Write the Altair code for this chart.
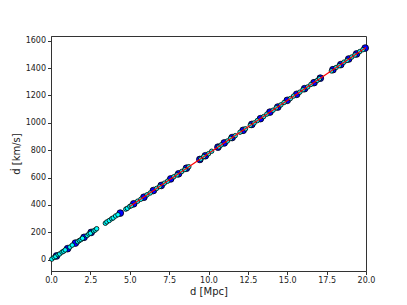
import altair as alt
import pandas as pd

# blue (large) points
blue_d = [0.35, 1.05, 1.55, 2.1, 2.55, 4.4, 5.25, 5.9, 6.5, 7.0, 7.6, 8.1, 8.6,
          9.45, 9.8, 10.6, 11.0, 11.5, 12.2, 12.75, 13.3, 13.9, 14.4, 15.0, 15.6,
          16.1, 16.7, 17.1, 17.9, 18.4, 18.9, 19.4, 19.95]
blue_v = [27, 80, 121, 163, 199, 340, 408, 456, 505, 542, 590, 627, 668,
          732, 759, 822, 853, 892, 945, 988, 1030, 1078, 1115, 1164, 1208,
          1249, 1293, 1326, 1388, 1425, 1466, 1503, 1546]

# cyan (small) points
cyan_d = [0.05, 0.2, 0.3, 0.45, 0.55, 0.7, 0.8, 0.9, 1.2, 1.35, 1.7, 1.8, 1.9, 2.0,
          2.3, 2.4, 2.5, 2.7, 2.8, 2.9, 3.45, 3.55, 3.7, 3.85, 3.95, 4.1, 4.25,
          4.75, 4.85, 5.0, 5.1, 5.5, 5.7, 6.1, 6.3, 6.7, 6.9, 7.2, 7.4, 7.8, 8.0,
          8.3, 8.5, 8.75, 9.5, 9.7, 10.0, 10.2, 10.65, 10.8, 11.2, 11.4, 11.7,
          12.0, 12.35, 12.65, 12.9, 13.1, 13.5, 13.7, 14.1, 14.3, 14.6, 14.8,
          15.2, 15.4, 15.8, 16.0, 16.3, 16.5, 16.9, 17.05, 17.8, 18.1, 18.3,
          18.6, 18.8, 19.1, 19.3, 19.6, 19.8]
cyan_v = [4, 16, 23, 36, 42, 55, 61, 71, 92, 106, 131, 140, 146, 156,
          177, 187, 193, 210, 216, 226, 266, 276, 286, 299, 305, 319, 328,
          369, 375, 389, 394, 427, 441, 474, 487, 520, 534, 559, 573, 606, 619,
          644, 658, 679, 735, 753, 774, 792, 824, 838, 867, 885, 906,
          931, 956, 981, 999, 1016, 1045, 1063, 1092, 1109, 1131, 1148,
          1177, 1195, 1224, 1241, 1262, 1280, 1309, 1322, 1379, 1404, 1417,
          1443, 1456, 1481, 1495, 1520, 1534]

# fitted line
line_d = [5.0, 20.0]
line_v = [387.5, 1550.0]

x_ticks = [0, 2.5, 5, 7.5, 10, 12.5, 15, 17.5, 20]
y_ticks = [0, 200, 400, 600, 800, 1000, 1200, 1400, 1600]

blue_df = pd.DataFrame({"d": blue_d, "v": blue_v})
cyan_df = pd.DataFrame({"d": cyan_d, "v": cyan_v})
line_df = pd.DataFrame({"d": line_d, "v": line_v})

xscale = alt.Scale(domain=[0, 20], nice=False, zero=False)
yscale = alt.Scale(domain=[-83, 1634], nice=False, zero=False)

xaxis = alt.Axis(values=x_ticks, format=".1f", labelOverlap=False, labelFlush=False,
                 title="d [Mpc]", grid=False, tickSize=3.5, labelPadding=2,
                 titlePadding=2)
yaxis = alt.Axis(values=y_ticks, format="d", labelOverlap=False, labelFlush=False,
                 title="ḋ [km/s]", grid=False, tickSize=3.5, labelPadding=2,
                 titlePadding=4)

X = alt.X("d:Q", scale=xscale, axis=xaxis)
Y = alt.Y("v:Q", scale=yscale, axis=yaxis)

blue = alt.Chart(blue_df).mark_point(
    filled=True, shape="circle", size=45, color="#0000ff",
    stroke="black", strokeWidth=0.8, opacity=1
).encode(x=X, y=Y)

cyan = alt.Chart(cyan_df).mark_point(
    filled=True, shape="circle", size=20, color="#00ffff",
    stroke="black", strokeWidth=0.8, opacity=1
).encode(x=X, y=Y)

line = alt.Chart(line_df).mark_line(color="red", strokeWidth=1.2).encode(x=X, y=Y)

chart = alt.layer(blue, cyan, line).properties(
    width=315, height=235,
    autosize=alt.AutoSizeParams(type="none"),
    padding={"left": 43, "top": 28, "right": 33, "bottom": 26},
).configure_view(
    stroke="#333333", strokeWidth=1
).configure_axis(
    labelFont="DejaVu Sans", titleFont="DejaVu Sans", labelFontSize=8,
    titleFontSize=10, titleFontWeight="normal", labelColor="#222222",
    titleColor="#222222", domainColor="#333333", tickColor="#333333",
    domainWidth=1, labelOverlap=False
)

chart.save("out.html", embed_options={"renderer": "svg", "actions": False})
